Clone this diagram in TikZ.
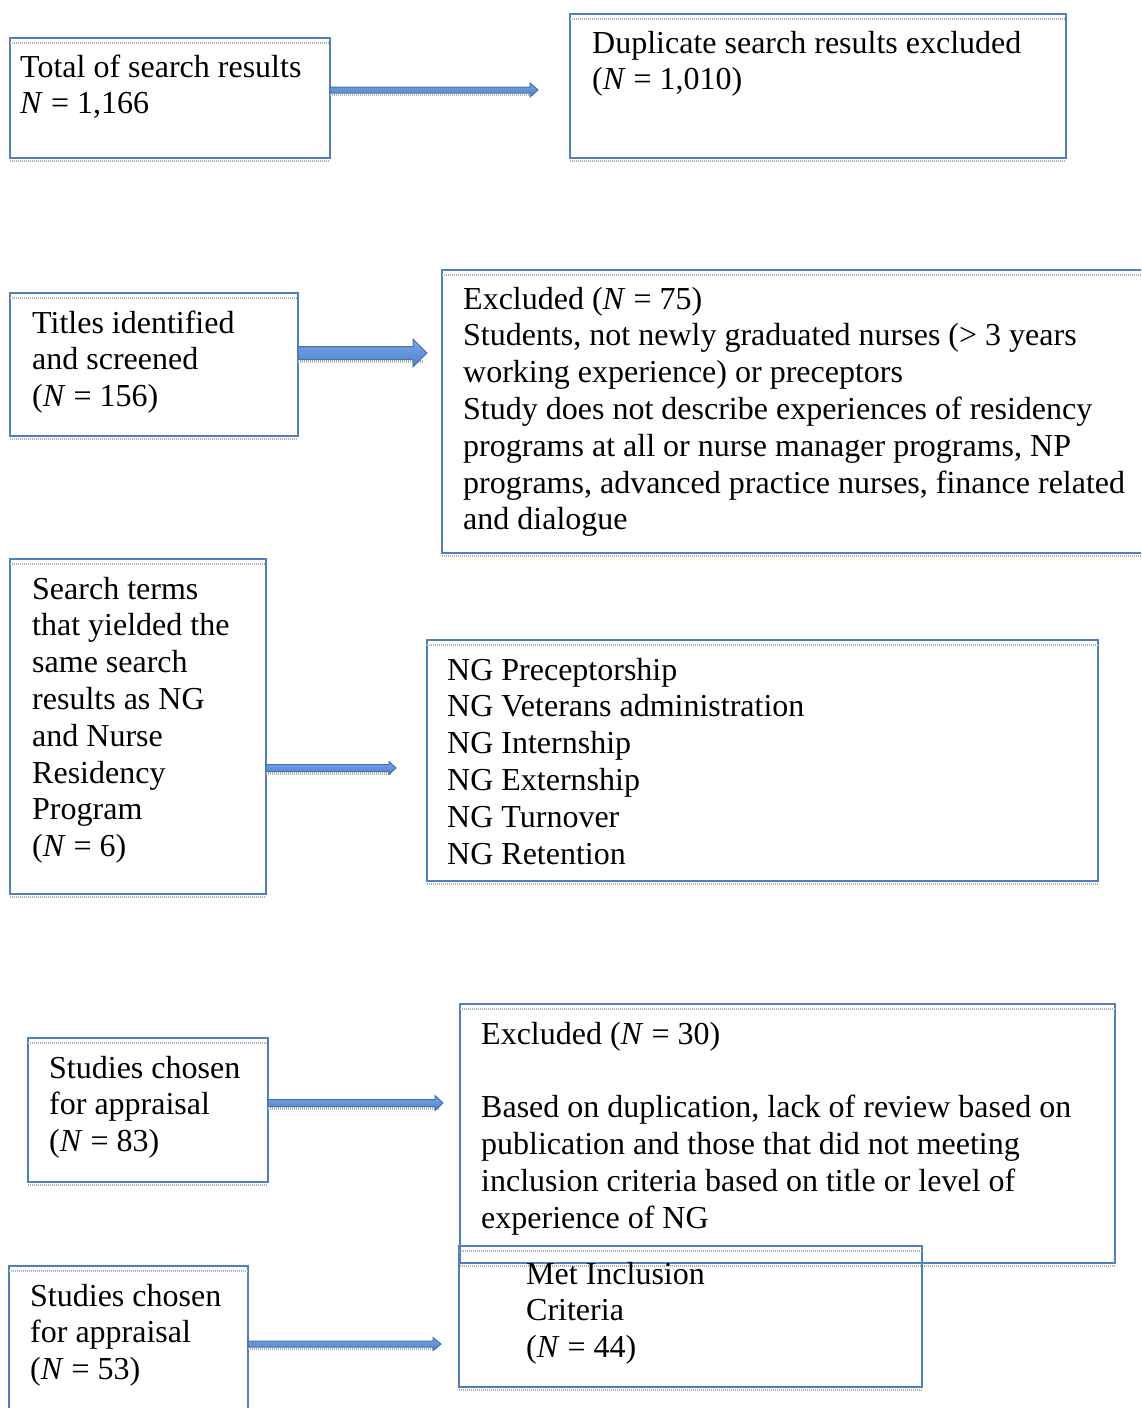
\documentclass[tikz,border=0pt]{standalone}
\usepackage{fontspec}
\setmainfont{Liberation Serif}
\usetikzlibrary{calc}
\definecolor{bblue}{RGB}{79,129,189}
\definecolor{atop}{RGB}{120,165,228}
\definecolor{abot}{RGB}{80,128,200}
\definecolor{aedge}{RGB}{66,114,184}
\definecolor{sgray}{RGB}{175,175,175}
\tikzset{
  boxstyle/.style={draw=bblue, line width=2pt, rectangle, inner sep=0pt, outer sep=0pt, anchor=north west},
  txt/.style={anchor=base west, inner sep=0pt, font=\fontsize{32}{36.8}\selectfont},
  shad/.style={draw=sgray, line width=2pt, dash pattern=on 1pt off 1pt},
  barr/.style={draw=aedge, line width=1pt, top color=atop, bottom color=abot},
}
\newcommand\tl[1]{\begin{tabular}[t]{@{}l@{}}#1\end{tabular}}
\newcommand\mkbox[5]{%
  \node[boxstyle, minimum width={(#4-#2)*1pt}, minimum height={(#5-#3)*1pt}] (#1) at (#2,#3) {};
  \draw[shad] ($(#1.north west)+(0,5)$) -- ($(#1.north east)+(0,5)$);
  \draw[shad] ($(#1.south west)+(0,3)$) -- ($(#1.south east)+(0,3)$);
}
\newcommand\blockarrow[5]{%
  \draw[shad, line width=2.5pt] ($(#1)+(0,#3+2)$) -- ($(#2)+(-4,#3+2)$);
  \shadedraw[barr] ($(#1)+(0,-#3)$) -- ($(#2)+(-#5,-#3)$) -- ($(#2)+(-#5,-#4)$) -- (#2)
     -- ($(#2)+(-#5,#4)$) -- ($(#2)+(-#5,#3)$) -- ($(#1)+(0,#3)$) -- cycle;
}
\begin{document}
\begin{tikzpicture}[x=1pt,y=-1pt]
\useasboundingbox (0,0) rectangle (1141,1408);
\clip (0,0) rectangle (1141,1408);

\mkbox{b1}{10}{38}{330}{158}
\mkbox{b2}{570}{14}{1066}{158}
\mkbox{b3}{10}{293}{298}{436}
\mkbox{b4}{442}{270}{1150}{553}
\mkbox{b5}{10}{559}{266}{894}
\mkbox{b6}{427}{640}{1098}{881}
\mkbox{b7}{28}{1038}{268}{1182}
\mkbox{b8}{460}{1004}{1115}{1263}
\mkbox{b9}{9}{1266}{248}{1430}
\mkbox{b10}{459}{1246}{922}{1387}

\node[txt] (t1) at (20,77) {\tl{Total of search results\\\textit{N} = 1,166}};
\node[txt] (t2) at (592,53) {\tl{Duplicate search results excluded\\(\textit{N} = 1,010)}};
\node[txt] (t3) at (32,333) {\tl{Titles identified\\and screened\\(\textit{N} = 156)}};
\node[txt] (t4) at (463,309) {\tl{Excluded (\textit{N} = 75)\\Students, not newly graduated nurses (> 3 years\\working experience) or preceptors\\Study does not describe experiences of residency\\programs at all or nurse manager programs, NP\\programs, advanced practice nurses, finance related\\and dialogue}};
\node[txt] (t5) at (32,599) {\tl{Search terms\\that yielded the\\same search\\results as NG\\and Nurse\\Residency\\Program\\(\textit{N} = 6)}};
\node[txt] (t6) at (447,680) {\tl{NG Preceptorship\\NG Veterans administration\\NG Internship\\NG Externship\\NG Turnover\\NG Retention}};
\node[txt] (t7) at (49,1078) {\tl{Studies chosen\\for appraisal\\(\textit{N} = 83)}};
\node[txt] (t8) at (481,1044) {\tl{Excluded (\textit{N} = 30)\\ \\Based on duplication, lack of review based on\\publication and those that did not meeting\\inclusion criteria based on title or level of\\experience of NG}};
\node[txt] (t9) at (30,1306) {\tl{Studies chosen\\for appraisal\\(\textit{N} = 53)}};
\node[txt] (t10) at (526,1284) {\tl{Met Inclusion\\Criteria\\(\textit{N} = 44)}};

\coordinate (e1) at (538,90);
\coordinate (e2) at (427,353);
\coordinate (e3) at (396,768);
\coordinate (e4) at (443,1103);
\coordinate (e5) at (441,1344);
\coordinate (s1) at (b1.east |- e1);
\coordinate (s2) at (b3.east |- e2);
\coordinate (s3) at (b5.east |- e3);
\coordinate (s4) at (b7.east |- e4);
\coordinate (s5) at (b9.east |- e5);
\blockarrow{s1}{e1}{3}{7}{8}
\blockarrow{s2}{e2}{6.5}{14}{14}
\blockarrow{s3}{e3}{3.5}{6.5}{7}
\blockarrow{s4}{e4}{3.5}{7.5}{8}
\blockarrow{s5}{e5}{3}{6.5}{8}
\end{tikzpicture}
\end{document}
